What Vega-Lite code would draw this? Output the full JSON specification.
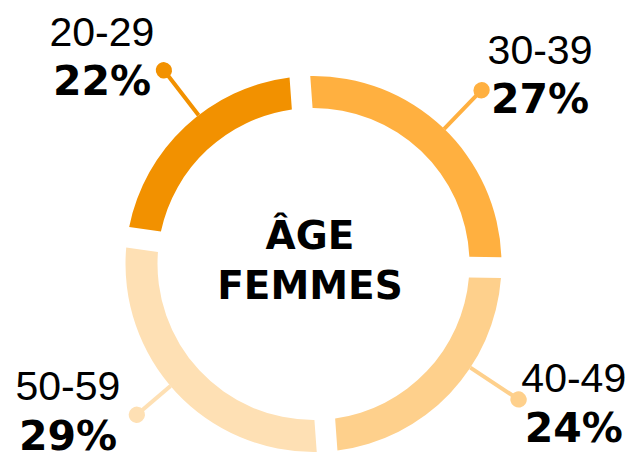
{
  "$schema": "https://vega.github.io/schema/vega-lite/v6.json",
  "width": 633,
  "height": 453,
  "autosize": {"type": "fit", "contains": "padding"},
  "padding": 0,
  "background": "white",
  "config": {"view": {"stroke": null}},
  "data": {"values": [
    {"age": "20-29", "pct": 0.22},
    {"age": "30-39", "pct": 0.27},
    {"age": "40-49", "pct": 0.24},
    {"age": "50-59", "pct": 0.29}
  ]},
  "layer": [
    {
      "mark": {"type": "arc", "outerRadius": 188, "innerRadius": 156, "padAngle": 0.085},
      "encoding": {
        "x": {"value": 313.5},
        "y": {"value": 264},
        "theta": {"field": "pct", "type": "quantitative", "stack": true, "scale": {"range": [-1.4277, 4.8555]}},
        "order": {"field": "age", "sort": "ascending"},
        "color": {"field": "age", "type": "nominal", "scale": {"domain": ["20-29", "30-39", "40-49", "50-59"], "range": ["#f29100", "#ffb040", "#fed08c", "#fee0b4"]}, "legend": null}
      }
    },
    {
      "mark": {"type": "arc", "outerRadius": 240, "innerRadius": 188, "padAngle": 3, "filled": false, "strokeWidth": 4,
        "thetaOffset": {"expr": "datum.age === '20-29' ? 0.0925 : datum.age === '30-39' ? 0.0096 : datum.age === '40-49' ? -0.1754 : 0.0436"},
        "theta2Offset": {"expr": "datum.age === '20-29' ? 0.0925 : datum.age === '30-39' ? 0.0096 : datum.age === '40-49' ? -0.1754 : 0.0436"}},
      "encoding": {
        "x": {"value": 313.5},
        "y": {"value": 264},
        "theta": {"field": "pct", "type": "quantitative", "stack": true},
        "order": {"field": "age", "sort": "ascending"},
        "color": {"field": "age", "type": "nominal", "legend": null}
      }
    },
    {
      "mark": {"type": "arc", "padAngle": 3, "filled": false, "strokeWidth": 16, "strokeJoin": "round", "strokeCap": "round",
        "outerRadius": {"expr": "datum.age === '20-29' ? 245 : datum.age === '30-39' ? 242 : datum.age === '40-49' ? 246 : 232.5"},
        "innerRadius": {"expr": "datum.age === '20-29' ? 244.5 : datum.age === '30-39' ? 241.5 : datum.age === '40-49' ? 245.5 : 232"},
        "thetaOffset": {"expr": "datum.age === '20-29' ? 0.0925 : datum.age === '30-39' ? 0.0096 : datum.age === '40-49' ? -0.1754 : 0.0436"},
        "theta2Offset": {"expr": "datum.age === '20-29' ? 0.0925 : datum.age === '30-39' ? 0.0096 : datum.age === '40-49' ? -0.1754 : 0.0436"}},
      "encoding": {
        "x": {"value": 313.5},
        "y": {"value": 264},
        "theta": {"field": "pct", "type": "quantitative", "stack": true},
        "order": {"field": "age", "sort": "ascending"},
        "color": {"field": "age", "type": "nominal", "legend": null}
      }
    },
    {
      "mark": {"type": "text", "font": "Liberation Sans", "fontSize": 41, "color": "#000000", "align": "center", "baseline": "alphabetic",
        "thetaOffset": {"expr": "datum.age === '20-29' ? 0.0925 : datum.age === '30-39' ? 0.0096 : datum.age === '40-49' ? -0.1754 : 0.0436"},
        "radius": {"expr": "datum.age === '20-29' ? 245 : datum.age === '30-39' ? 242 : datum.age === '40-49' ? 246 : 232.5"},
        "dx": {"expr": "datum.age === '20-29' ? -61.8 : datum.age === '30-39' ? 58.3 : datum.age === '40-49' ? 55 : -68.7"},
        "dy": {"expr": "datum.age === '20-29' ? -24 : datum.age === '30-39' ? -25.7 : datum.age === '40-49' ? -7.6 : -15"}},
      "encoding": {
        "x": {"value": 313.5},
        "y": {"value": 264},
        "theta": {"field": "pct", "type": "quantitative", "stack": true},
        "order": {"field": "age", "sort": "ascending"},
        "detail": {"field": "age", "type": "nominal"},
        "text": {"field": "age", "type": "nominal"}
      }
    },
    {
      "mark": {"type": "text", "font": "DejaVu Sans", "fontWeight": "bold", "fontSize": 41, "color": "#000000", "align": "center", "baseline": "alphabetic",
        "thetaOffset": {"expr": "datum.age === '20-29' ? 0.0925 : datum.age === '30-39' ? 0.0096 : datum.age === '40-49' ? -0.1754 : 0.0436"},
        "radius": {"expr": "datum.age === '20-29' ? 245 : datum.age === '30-39' ? 242 : datum.age === '40-49' ? 246 : 232.5"},
        "dx": {"expr": "datum.age === '20-29' ? -61.8 : datum.age === '30-39' ? 58.3 : datum.age === '40-49' ? 55 : -68.7"},
        "dy": {"expr": "datum.age === '20-29' ? 25 : datum.age === '30-39' ? 23.3 : datum.age === '40-49' ? 42.4 : 35"}},
      "encoding": {
        "x": {"value": 313.5},
        "y": {"value": 264},
        "theta": {"field": "pct", "type": "quantitative", "stack": true},
        "order": {"field": "age", "sort": "ascending"},
        "detail": {"field": "age", "type": "nominal"},
        "text": {"field": "pct", "type": "quantitative", "format": ".0%"}
      }
    },
    {
      "data": {"values": [{"line1": "ÂGE", "line2": "FEMMES"}]},
      "mark": {"type": "text", "font": "DejaVu Sans", "fontWeight": "bold", "fontSize": 39, "color": "#000000", "align": "center", "baseline": "alphabetic", "lineHeight": 50},
      "encoding": {
        "x": {"value": 310},
        "y": {"value": 249},
        "text": {"value": ["ÂGE", "FEMMES"]}
      }
    }
  ]
}
